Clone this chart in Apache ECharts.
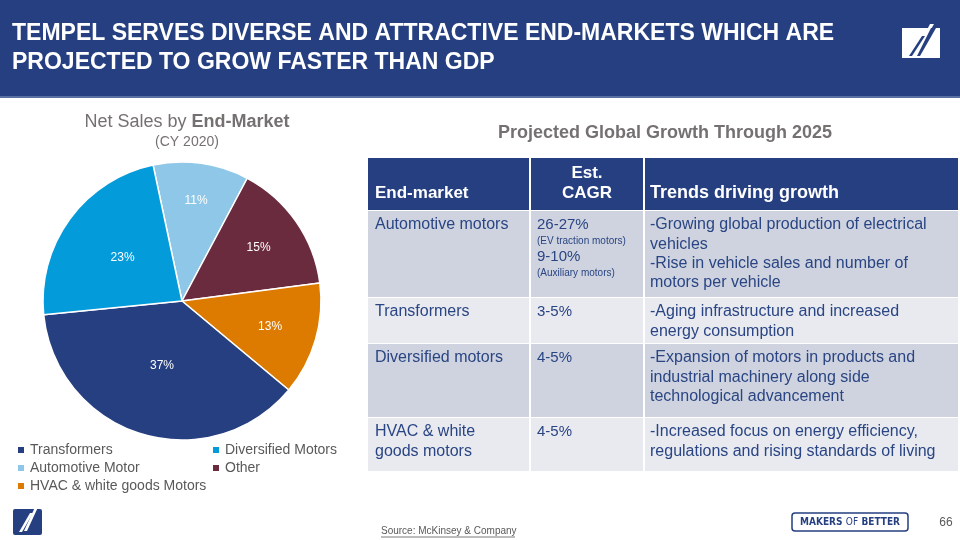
<!DOCTYPE html>
<html><head><meta charset="utf-8">
<script src="https://cdn.jsdelivr.net/npm/echarts@6/dist/echarts.min.js"></script>
<style>html,body{margin:0;padding:0;background:#fff}#c{width:960px;height:540px}</style>
</head><body><div id="c"></div>
<script>
// ---- data ----
const slideTitle = 'TEMPEL SERVES DIVERSE AND ATTRACTIVE END-MARKETS WHICH ARE\nPROJECTED TO GROW FASTER THAN GDP';
const pieNames = ['Automotive Motor', 'Other', 'HVAC & white goods Motors', 'Transformers', 'Diversified Motors'];
const pieValues = [11, 15, 13, 37, 23];
const legendLeft = ['Transformers', 'Automotive Motor', 'HVAC & white goods Motors'];
const legendRight = ['Diversified Motors', 'Other'];
const tableTitle = 'Projected Global Growth Through 2025';
const tableHeader = ['End-market', 'Est.\nCAGR', 'Trends driving growth'];
const endMarkets = ['Automotive motors', 'Transformers', 'Diversified motors', 'HVAC & white\ngoods motors'];
const cagrValues = [
  [['26-27%', 'a'], ['(EV traction motors)', 's'], ['9-10%', 'a'], ['(Auxiliary motors)', 's']],
  [['3-5%', 'a']],
  [['4-5%', 'a']],
  [['4-5%', 'a']]
];
const growthTrends = [
  ['-Growing global production of electrical', 'vehicles', '-Rise in vehicle sales and number of', 'motors per vehicle'],
  ['-Aging infrastructure and increased', 'energy consumption'],
  ['-Expansion of motors in products and', 'industrial machinery along side', 'technological advancement'],
  ['-Increased focus on energy efficiency,', 'regulations and rising standards of living']
];
const sourceText = 'Source: McKinsey & Company';
const pageNumber = '66';

// ---- styles ----
const NAVY = '#253F80';
const sliceColors = { 'Transformers': '#253F80', 'Diversified Motors': '#049BDA', 'Automotive Motor': '#8EC7E7', 'Other': '#6B2B3E', 'HVAC & white goods Motors': '#DD7B00' };
// label distance from centre, as a fraction of the radius (PowerPoint "best fit" look)
const labelRadiusFactor = { 'Transformers': 0.49, 'Diversified Motors': 0.53, 'Automotive Motor': 0.73, 'Other': 0.67, 'HVAC & white goods Motors': 0.66 };
const FONT = '"Liberation Sans", Arial, sans-serif';
const rowBg = ['#CED3DF', '#E8EAF0', '#CED3DF', '#E8EAF0'];
const colX = [368, 530, 644, 958];
const headTop = 158, headBot = 210;
const rowTops = [211, 298, 344, 418], rowBots = [297, 343, 417, 471];
const rowText = '#2A4583';
const PIE_C = [182, 301], PIE_R = 139;

const chart = echarts.init(document.getElementById('c'), null, { renderer: 'canvas' });
const g = [];
function txt(x, y, text, o) {
  o = o || {};
  const st = Object.assign({ text: text, fill: o.fill || '#000', font: o.font, align: o.align || 'left', textAlign: o.align || 'left', verticalAlign: o.va || 'middle', textVerticalAlign: o.va || 'middle' }, o.extra || {});
  g.push({ type: 'text', x: x, y: y, z: 10, style: st });
}
// header band
g.push({ type: 'rect', shape: { x: 0, y: 0, width: 960, height: 96 }, style: { fill: NAVY } });
g.push({ type: 'rect', shape: { x: 0, y: 96, width: 960, height: 2 }, style: { fill: '#5A70A0' } });
txt(12, 48, slideTitle, { fill: '#fff', font: 'bold 23px ' + FONT, extra: { lineHeight: 29 } });
// top-right logo
g.push({ type: 'rect', shape: { x: 902, y: 28, width: 38, height: 30 }, style: { fill: '#fff' } });
g.push({ type: 'polygon', shape: { points: [[930, 24], [934, 24], [922, 45], [919, 45]] }, style: { fill: '#fff' } });
g.push({ type: 'polygon', shape: { points: [[931, 28], [936, 28], [920, 56], [917, 56]] }, style: { fill: NAVY } });
g.push({ type: 'polygon', shape: { points: [[922, 36], [925, 36], [912, 56], [909, 56]] }, style: { fill: NAVY } });
// bottom-left logo
g.push({ type: 'rect', shape: { x: 13, y: 509, width: 29, height: 26, r: 2 }, style: { fill: NAVY } });
g.push({ type: 'polygon', shape: { points: [[36, 505], [39, 505], [27, 531], [24, 531]] }, style: { fill: '#fff' } });
g.push({ type: 'polygon', shape: { points: [[30, 513], [33, 513], [22, 532], [19, 532]] }, style: { fill: '#fff' } });
// pie titles
txt(187, 122, '{n|Net Sales by }{b|End-Market}', { extra: { rich: { n: { fontSize: 18, fontFamily: FONT, fill: '#767171', color: '#767171' }, b: { fontSize: 18, fontFamily: FONT, fontWeight: 'bold', fill: '#767171', color: '#767171' } } }, align: 'center' });
txt(187, 142, '(CY 2020)', { fill: '#767171', font: '14px ' + FONT, align: 'center' });
// table title
txt(665, 133, tableTitle, { fill: '#767171', font: 'bold 18px ' + FONT, align: 'center' });
// table header
g.push({ type: 'rect', shape: { x: colX[0], y: headTop, width: colX[3] - colX[0], height: headBot - headTop }, style: { fill: NAVY } });
txt(375, 193, tableHeader[0], { fill: '#fff', font: 'bold 17px ' + FONT });
txt((colX[1] + colX[2]) / 2, 183, tableHeader[1], { fill: '#fff', font: 'bold 17px ' + FONT, align: 'center', extra: { lineHeight: 20 } });
txt(650, 193, tableHeader[2], { fill: '#fff', font: 'bold 18px ' + FONT });
// table rows
for (let i = 0; i < endMarkets.length; i++) {
  const t = rowTops[i], b = rowBots[i];
  g.push({ type: 'rect', shape: { x: colX[0], y: t, width: colX[3] - colX[0], height: b - t }, style: { fill: rowBg[i] } });
  txt(375, t + 4, endMarkets[i], { fill: rowText, font: '16px ' + FONT, va: 'top', extra: { lineHeight: 19.4 } });
  const rich = { a: { fontSize: 15, fontFamily: FONT, lineHeight: 16, fill: rowText, color: rowText }, s: { fontSize: 10, fontFamily: FONT, lineHeight: 16, fill: rowText, color: rowText } };
  const cText = cagrValues[i].map(p => '{' + p[1] + '|' + p[0] + '}').join('\n');
  txt(537, t + 6, cText, { va: 'top', extra: { rich: rich } });
  txt(650, t + 4, growthTrends[i].join('\n'), { fill: rowText, font: '16px ' + FONT, va: 'top', extra: { lineHeight: 19.4 } });
}
// white column separators
[colX[1], colX[2]].forEach(x => {
  g.push({ type: 'rect', z: 5, shape: { x: x - 1, y: headTop, width: 2, height: rowBots[3] - headTop }, style: { fill: '#fff' } });
});
// source
txt(381, 531, sourceText, { fill: '#595959', font: '10px ' + FONT });
g.push({ type: 'line', shape: { x1: 381, y1: 537, x2: 515, y2: 537 }, style: { stroke: '#595959', lineWidth: 0.8 } });
// makers of better
g.push({ type: 'rect', shape: { x: 792, y: 513, width: 116, height: 18, r: 3 }, style: { fill: 'none', stroke: NAVY, lineWidth: 1.5 } });
txt(850, 522, '{b|MAKERS} {l|OF} {b|BETTER}', { align: 'center', extra: { rich: { b: { fontSize: 10, fontWeight: 'bold', fontFamily: '"DejaVu Sans Condensed", "DejaVu Sans", sans-serif', fill: NAVY, color: NAVY }, l: { fontSize: 10, fontFamily: '"DejaVu Sans Condensed", "DejaVu Sans", sans-serif', fill: NAVY, color: NAVY } } } });
txt(946, 523, pageNumber, { fill: '#595959', font: '12px ' + FONT, align: 'center' });

const legendCommon = { orient: 'vertical', itemWidth: 8, itemHeight: 8, itemGap: 4, icon: 'rect', textStyle: { color: '#595959', fontSize: 14, fontFamily: FONT }, selectedMode: false };
chart.setOption({
  animation: false,
  legend: [
    Object.assign({ left: 11, top: 438, data: legendLeft }, legendCommon),
    Object.assign({ left: 206, top: 438, data: legendRight }, legendCommon)
  ],
  series: [{
    type: 'pie',
    center: PIE_C,
    radius: PIE_R,
    startAngle: 102,
    clockwise: true,
    data: pieNames.map((n, i) => ({ name: n, value: pieValues[i], itemStyle: { color: sliceColors[n] } })),
    itemStyle: { borderColor: '#fff', borderWidth: 1.5 },
    label: { position: 'inside', formatter: '{c}%', color: '#fff', fontSize: 12, fontFamily: FONT },
    labelLine: { show: false },
    labelLayout: function (p) {
      const r = p.labelRect;
      const cx = r.x + r.width / 2, cy = r.y + r.height / 2;
      const dx = cx - PIE_C[0], dy = cy - PIE_C[1];
      const d = Math.sqrt(dx * dx + dy * dy) || 1;
      const f = labelRadiusFactor[pieNames[p.dataIndex]] * PIE_R;
      return { x: PIE_C[0] + dx / d * f, y: PIE_C[1] + dy / d * f, align: 'center', verticalAlign: 'middle' };
    },
    emphasis: { disabled: true }
  }],
  graphic: g
});
</script></body></html>
